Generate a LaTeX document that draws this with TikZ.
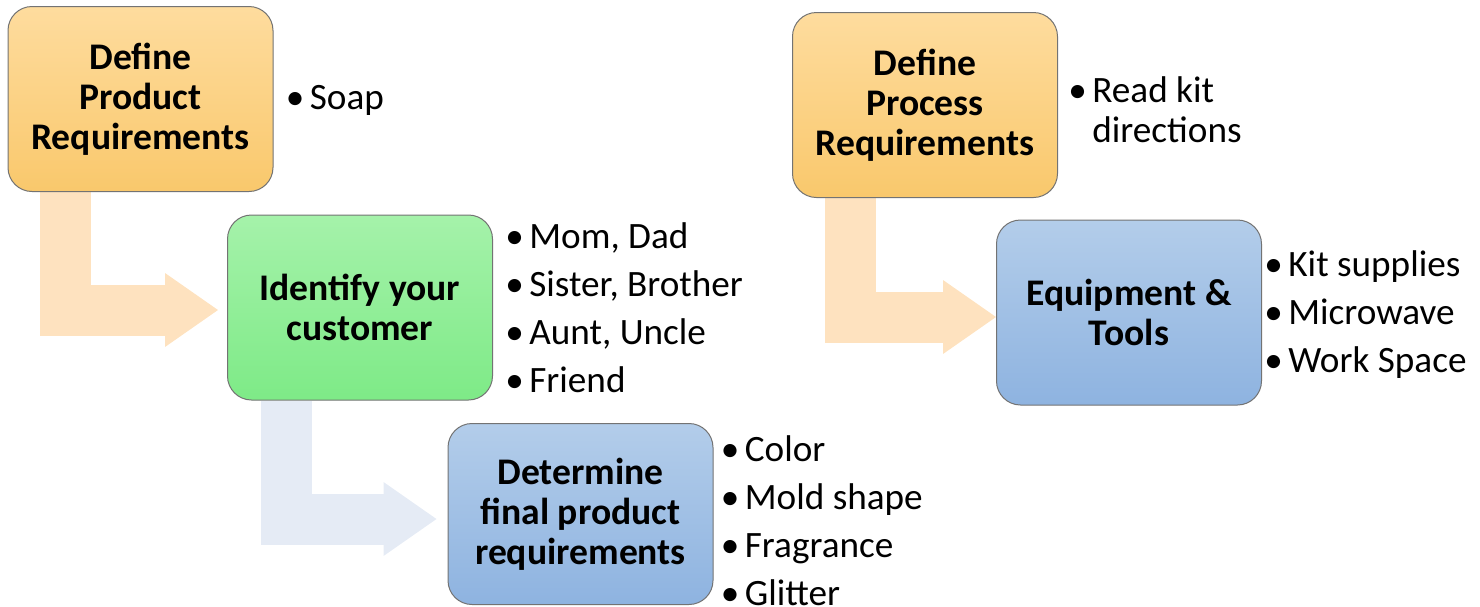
\documentclass[tikz,border=0pt]{standalone}
\usepackage{fontspec}
\setmainfont{Carlito}
\usetikzlibrary{arrows.meta, backgrounds, calc, positioning}
\definecolor{orangetop}{HTML}{FEDC9E}
\definecolor{orangebot}{HTML}{F9C86C}
\definecolor{greentop}{HTML}{A5F2AA}
\definecolor{greenbot}{HTML}{7EEA87}
\definecolor{bluetop}{HTML}{B3CDEA}
\definecolor{bluebot}{HTML}{8EB3E0}
\definecolor{arroworange}{HTML}{FEE2BF}
\definecolor{arrowblue}{HTML}{E5EBF5}
\newcommand{\itm}{\makebox[12pt][l]{\textbullet}}
\tikzset{
    stepbox/.style={draw=black!55, line width=0.5pt, rounded corners=12pt,
        minimum width=132.5pt, minimum height=92.5pt, inner sep=0pt,
        align=center, font=\bfseries\fontsize{18.8}{20}\selectfont},
    orangebox/.style={stepbox, top color=orangetop, bottom color=orangebot},
    greenbox/.style={stepbox, top color=greentop, bottom color=greenbot},
    bluebox/.style={stepbox, top color=bluetop, bottom color=bluebot},
    bullets/.style={anchor=west, inner sep=0pt, align=left,
        font=\fontsize{18.6}{20}\selectfont},
    bentarrow/.style={line width=25.5pt, draw=#1,
        -{Triangle[length=26.5pt, width=37pt, line width=0pt]}}
}
\begin{document}
\begin{tikzpicture}[x=0.5pt, y=-0.5pt]
    \useasboundingbox (0,0) rectangle (1480,606);
    % product branch
    \node[orangebox] (prodreq) at (140.5,99) {Define\\Product\\Requirements};
    \node[greenbox] (customer) at (360,307.5) {Identify your\\customer};
    \node[bluebox, minimum height=90.5pt] (finalreq) at (580.5,514) {Determine\\final product\\requirements};
    % process branch
    \node[orangebox] (procreq) at (925,105) {Define\\Process\\Requirements};
    \node[bluebox] (tools) at (1129,312.5) {Equipment \&\\Tools};
    % bullet lists
    \node[bullets] (soap) at ($(prodreq.east)+(12,1)$) {\itm Soap};
    \node[bullets] (who) at ($(customer.east)+(12,0)$)
        {\itm Mom, Dad\\[4pt]\itm Sister, Brother\\[4pt]\itm Aunt, Uncle\\[4pt]\itm Friend};
    \node[bullets] (what) at ($(finalreq.east)+(7,7)$)
        {\itm Color\\[4pt]\itm Mold shape\\[4pt]\itm Fragrance\\[4pt]\itm Glitter};
    \node[bullets] (kit) at ($(procreq.east)+(10,5)$)
        {\itm Read kit\\\hspace*{12pt}directions};
    \node[bullets] (supplies) at ($(tools.east)+(2,2)$)
        {\itm Kit supplies\\[4pt]\itm Microwave\\[4pt]\itm Work Space};
    \begin{scope}[on background layer]
    \draw[bentarrow=arroworange] ($(prodreq.south west)+(57.5,0)$) |- ($(customer.west)+(-9,2.5)$);
    \draw[bentarrow=arrowblue] ($(customer.south west)+(59,0)$) |- ($(finalreq.west)+(-11,5)$);
    \draw[bentarrow=arroworange] ($(procreq.south west)+(58.5,0)$) |- ($(tools.west)+(0,4.5)$);
    \end{scope}
\end{tikzpicture}
\end{document}
